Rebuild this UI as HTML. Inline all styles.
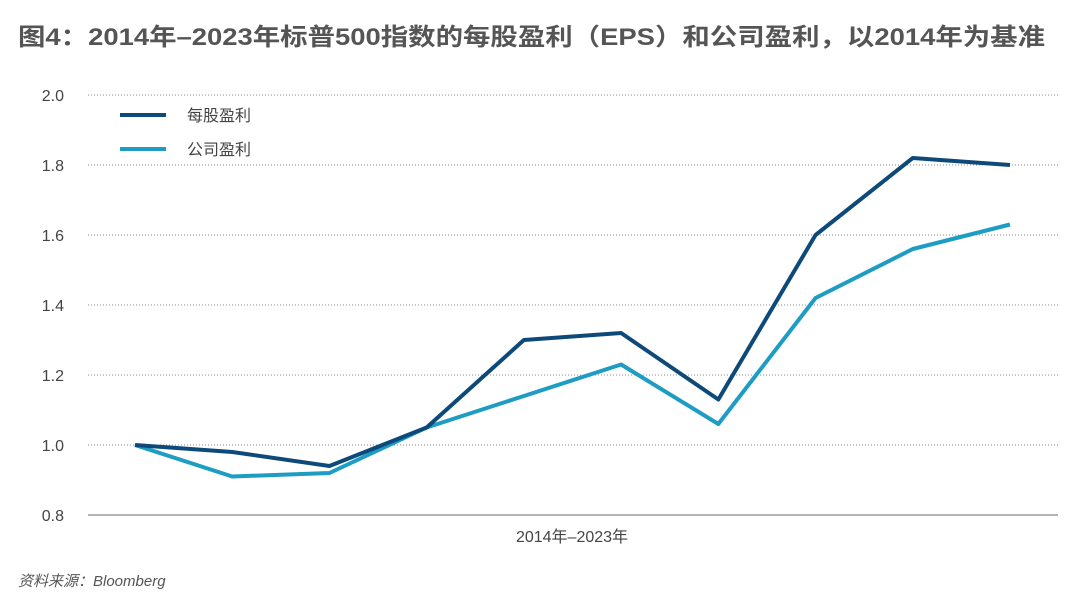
<!DOCTYPE html>
<html><head><meta charset="utf-8"><style>
body{margin:0;background:#fff;width:1080px;height:606px;overflow:hidden;font-family:"Liberation Sans","Noto Sans CJK SC",sans-serif}
</style></head><body>
<svg width="1080" height="606" xmlns="http://www.w3.org/2000/svg">
<text x="18" y="45" font-size="24" font-weight="bold" fill="#555" textLength="1027" lengthAdjust="spacingAndGlyphs" font-family="Liberation Sans, Noto Sans CJK SC, sans-serif">图4：2014年–2023年标普500指数的每股盈利（EPS）和公司盈利，以2014年为基准</text>
<g id="grid"></g><g id="series"></g>
<g>
<line x1="120" y1="115" x2="166" y2="115" stroke="#0d4a7a" stroke-width="4"/>
<text x="187" y="121" font-size="16" fill="#444">每股盈利</text>
<line x1="120" y1="149" x2="166" y2="149" stroke="#1d9cc4" stroke-width="4"/>
<text x="187" y="155" font-size="16" fill="#444">公司盈利</text>
</g>
<text x="572" y="542" font-size="16" fill="#444" text-anchor="middle">2014年–2023年</text>
<text x="18" y="586" font-size="15" fill="#555" font-style="italic">资料来源：Bloomberg</text>
</svg>
<script>
const years=[2014,2015,2016,2017,2018,2019,2020,2021,2022,2023];
const eps=[1.0,0.98,0.94,1.05,1.30,1.32,1.13,1.60,1.82,1.80];
const corp=[1.0,0.91,0.92,1.05,1.14,1.23,1.06,1.42,1.56,1.63];
const yTicks=[0.8,1.0,1.2,1.4,1.6,1.8,2.0];
const NS="http://www.w3.org/2000/svg";
const x=i=>135+i*(1010-135)/(years.length-1);
const y=v=>515-(v-0.8)*350;
const grid=document.getElementById('grid');
yTicks.forEach(t=>{
 const l=document.createElementNS(NS,'line');
 l.setAttribute('x1',88);l.setAttribute('x2',1058);l.setAttribute('y1',y(t));l.setAttribute('y2',y(t));
 l.setAttribute('stroke',t===0.8?'#666':'#888');l.setAttribute('stroke-width',1);
 if(t!==0.8)l.setAttribute('stroke-dasharray','1,2');
 
 
 grid.appendChild(l);
 const tx=document.createElementNS(NS,'text');
 tx.setAttribute('x',64);tx.setAttribute('y',y(t)+6);tx.setAttribute('text-anchor','end');
 tx.setAttribute('font-size',16);tx.setAttribute('fill','#444');tx.textContent=t.toFixed(1);
 
 
 grid.appendChild(tx);
});
const s=document.getElementById('series');
[[corp,'#1d9cc4','corp-line'],[eps,'#0d4a7a','eps-line']].forEach(([d,c,n])=>{
 const p=document.createElementNS(NS,'polyline');
 p.setAttribute('points',d.map((v,i)=>x(i)+','+y(v)).join(' '));
 p.setAttribute('fill','none');p.setAttribute('stroke',c);p.setAttribute('stroke-width',4);p.setAttribute('stroke-linejoin','round');
 
 
 s.appendChild(p);
});
</script>
</body></html>
